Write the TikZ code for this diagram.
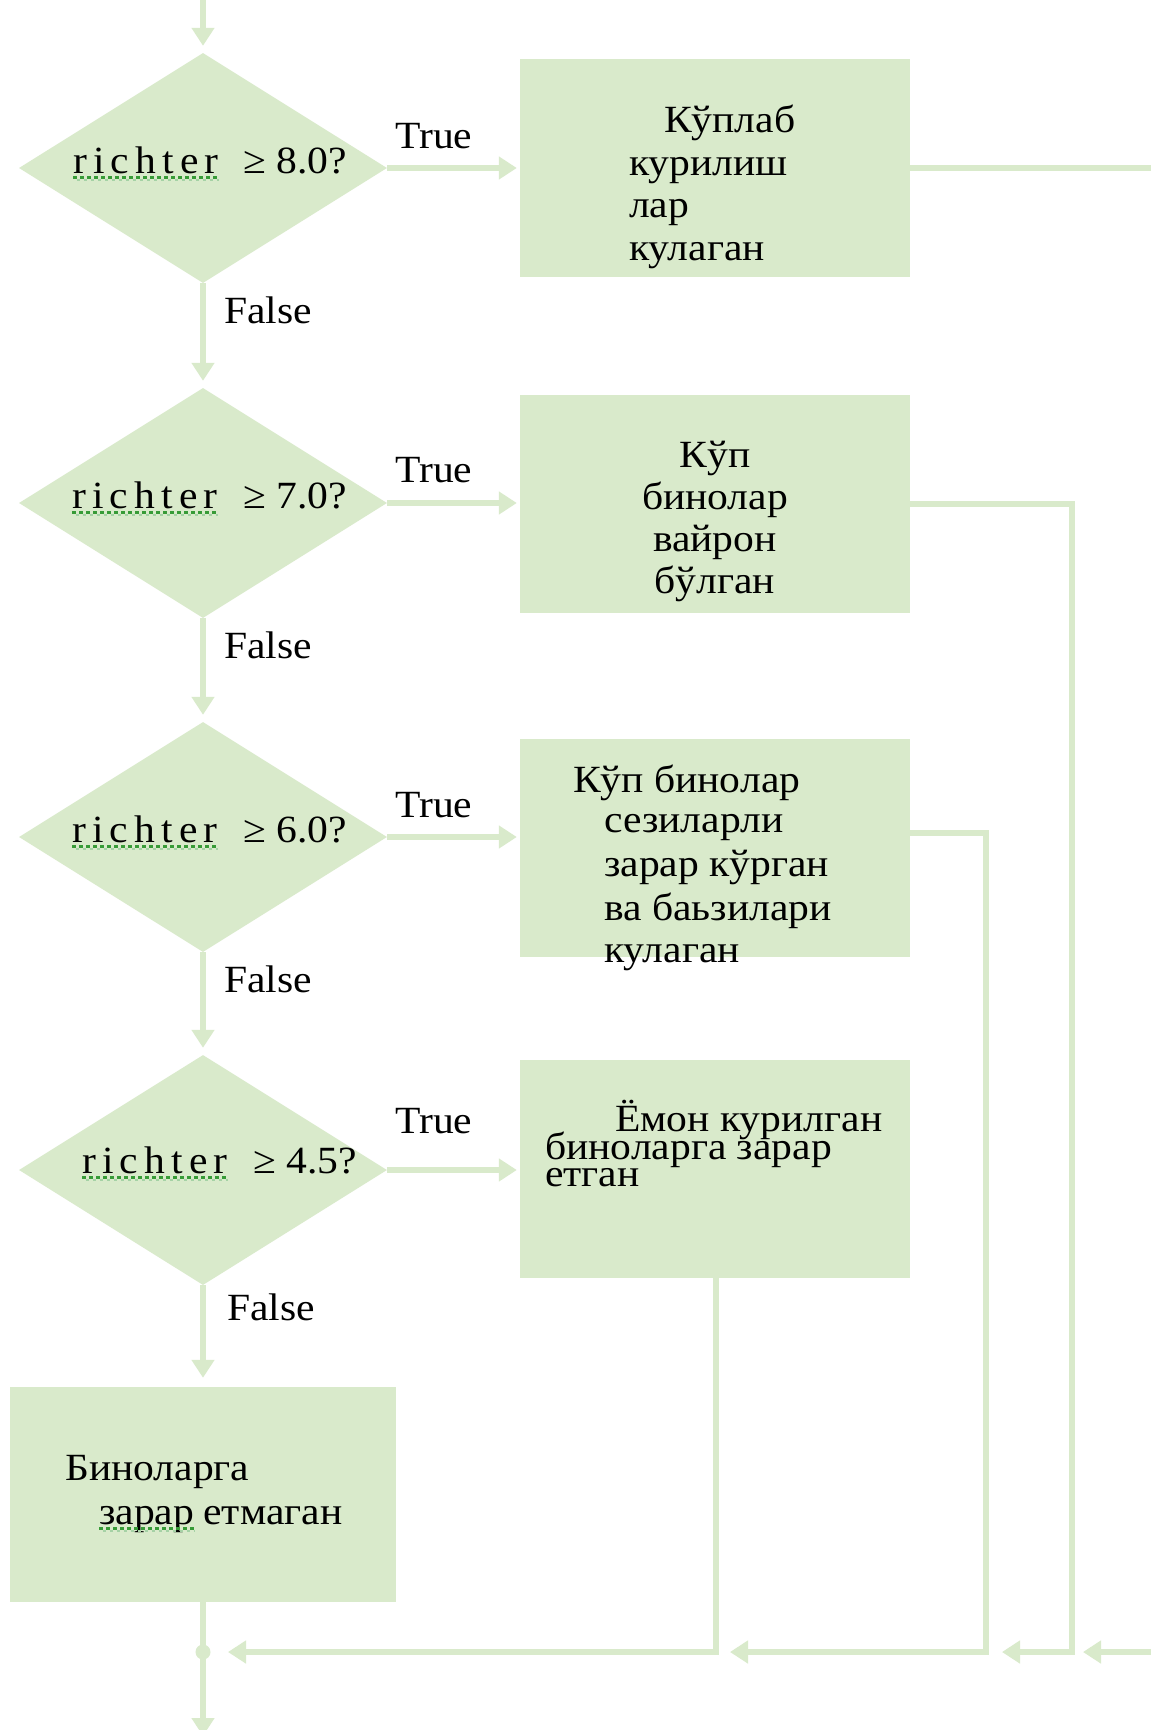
\documentclass[tikz,border=0pt]{standalone}
\usepackage{fontspec}
\setmainfont[FakeStretch=1.08]{Liberation Serif}
\newfontfamily\richfont[LetterSpace=16,FakeStretch=1.08]{Liberation Serif}
\usetikzlibrary{arrows.meta,shapes.geometric}
\definecolor{lg}{RGB}{217,234,203}
\definecolor{sq}{RGB}{55,155,55}
\begin{document}
\begin{tikzpicture}[x=1pt,y=-1pt,
  dec/.style={shape=diamond,fill=lg,draw=none,minimum width=368pt,minimum height=230pt,inner sep=0pt},
  box/.style={shape=rectangle,fill=lg,draw=none,minimum width=390pt,minimum height=218pt,inner sep=0pt},
  txt/.style={inner sep=0pt,anchor=base west,font=\fontsize{38.5}{42}\selectfont},
  ctxt/.style={inner sep=0pt,anchor=base,font=\fontsize{38.5}{42}\selectfont},
  rich/.style={inner sep=0pt,anchor=base west,font=\fontsize{38.5}{42}\richfont},
  conn/.style={draw=lg,line width=6pt},
  arr/.style={conn,-{Triangle[width=22pt,length=18pt]}},
  squig/.style={draw=sq,line width=3pt,dash pattern=on 3.5pt off 3.5pt}]
\useasboundingbox (0,0) rectangle (1151,1730);
\fill[white] (0,0) rectangle (1151,1730);
\clip (0,0) rectangle (1151,1730);

% decisions
\node[dec] (d1) at (203,168) {};
\node[dec] (d2) at (203,503) {};
\node[dec] (d3) at (203,837) {};
\node[dec] (d4) at (203,1170) {};

% boxes
\node[box] (b1) at (715,168) {};
\node[box] (b2) at (715,504) {};
\node[box] (b3) at (715,848) {};
\node[box] (b4) at (715,1169) {};
\node[box,minimum width=386pt,minimum height=215pt] (b5) at (203,1494.5) {};

% coordinates
\coordinate (start) at (203,-10);
\coordinate (v2) at (1072,1652);
\coordinate (v3) at (986,1652);
\coordinate (v4) at (716,1652);
\coordinate (far) at (1185,168);
\coordinate (farb) at (1185,1652);
\coordinate (finish) at (203,1736);
\node[circle,fill=lg,inner sep=0pt,minimum width=15pt] (J) at (203,1652) {};

% vertical flow
\draw[arr,shorten >=7pt] (start) -- (d1.north);
\draw[arr,shorten >=7pt] (d1.south) -- (d2.north);
\draw[arr,shorten >=7pt] (d2.south) -- (d3.north);
\draw[arr,shorten >=7pt] (d3.south) -- (d4.north);
\draw[arr,shorten >=9pt] (d4.south) -- (b5.north);
\draw[conn] (b5.south) -- (J.center);
\draw[arr] (J.center) -- (finish);

% true branches
\draw[arr,shorten >=3pt] (d1.east) -- (d1.east -| b1.west);
\draw[arr,shorten >=3pt] (d2.east) -- (d2.east -| b2.west);
\draw[arr,shorten >=3pt] (d3.east) -- (d3.east -| b3.west);
\draw[arr,shorten >=3pt] (d4.east) -- (d4.east -| b4.west);

% return lines
\draw[arr] (b1.east) -- (far) -- (farb) -- ([xshift=11pt]v2);
\draw[arr] (b2.east) -| (v2) -- ([xshift=16pt]v3);
\draw[arr] ([yshift=15pt]b3.east) -| (v3) -- ([xshift=14pt]v4);
\draw[arr] (b4.south -| v4) -- (v4) -- ([xshift=25pt]J.center);

% decision texts
\node[rich] (r1) at (73,173) {richter};
\node[txt] (g1) at (243,173) {≥ 8.0?};
\node[rich] (r2) at (72,508) {richter};
\node[txt] (g2) at (243,508) {≥ 7.0?};
\node[rich] (r3) at (72,842) {richter};
\node[txt] (g3) at (243,842) {≥ 6.0?};
\node[rich] (r4) at (82,1173) {richter};
\node[txt] (g4) at (253,1173) {≥ 4.5?};
\foreach \r in {r1,r2,r3,r4}{
  \draw[squig] ([yshift=-4pt]\r.base west) -- ([yshift=-4pt]\r.base east);
  \draw[squig,draw=sq!45,dash phase=3.5pt,line width=2.5pt] ([yshift=-7pt]\r.base west) -- ([yshift=-7pt]\r.base east);
}

% True / False labels
\node[txt] (t1) at (395,148) {True};
\node[txt] (t2) at (395,482) {True};
\node[txt] (t3) at (395,817) {True};
\node[txt] (t4) at (395,1133) {True};
\node[txt] (f1) at (224,323) {False};
\node[txt] (f2) at (224,658) {False};
\node[txt] (f3) at (224,992) {False};
\node[txt] (f4) at (227,1320) {False};

% box texts
\node[txt] (a1) at (664,132) {Кўплаб};
\node[txt] (a2) at (629,175) {курилиш};
\node[txt] (a3) at (629,217) {лар};
\node[txt] (a4) at (629,260) {кулаган};

\node[ctxt] (c1) at (715,467) {Кўп};
\node[ctxt] (c2) at (715,509) {бинолар};
\node[ctxt] (c3) at (715,551) {вайрон};
\node[ctxt] (c4) at (715,593) {бўлган};

\node[txt] (e1) at (573,792) {Кўп бинолар};
\node[txt] (e2) at (604,832) {сезиларли};
\node[txt] (e3) at (604,876) {зарар кўрган};
\node[txt] (e4) at (604,920) {ва баьзилари};
\node[txt] (e5) at (604,962) {кулаган};

\node[txt] (h1) at (615,1131) {Ёмон курилган};
\node[txt] (h2) at (545,1159) {биноларга зарар};
\node[txt] (h3) at (545,1186) {етган};

\node[txt] (k1) at (65,1480) {Биноларга};
\node[txt] (k2) at (99,1524) {зарар};
\node[txt,anchor=base west] (k3) at ([xshift=9pt]k2.base east) {етмаган};
\draw[squig] ([yshift=-4pt]k2.base west) -- ([yshift=-4pt]k2.base east);
\draw[squig,draw=sq!45,dash phase=3.5pt,line width=2.5pt] ([yshift=-7pt]k2.base west) -- ([yshift=-7pt]k2.base east);
\end{tikzpicture}
\end{document}
